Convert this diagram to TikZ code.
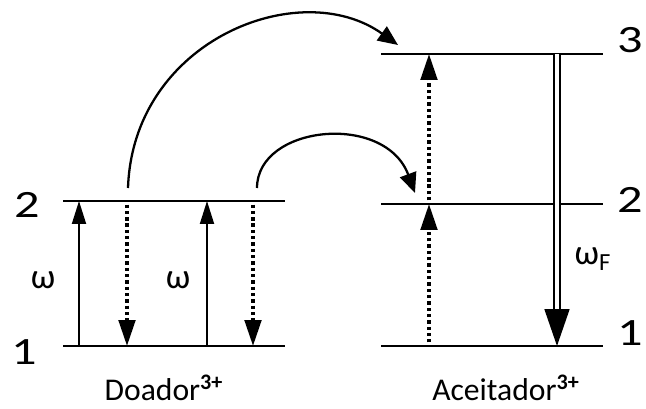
\documentclass[tikz,border=0pt]{standalone}
\usepackage{fontspec}
\usepackage{graphicx}
\setmainfont{Carlito}
\usetikzlibrary{arrows.meta}

\tikzset{
  level/.style={line width=1.7pt},
  upar/.style={line width=1.1pt, -{Triangle[length=4.6mm, width=2.8mm]}},
  dotar/.style={line width=2pt, dash pattern=on 1.9pt off 1.7pt, shorten <=2pt,
    -{Triangle[length=5.2mm, width=3.3mm]}},
  emit/.style={double, line width=1pt, double distance=2.6pt,
    -{Triangle[length=7.4mm, width=5mm]}},
  hop/.style={line width=1.3pt, -{Triangle[length=4mm, width=3.4mm]}},
  lab/.style={font=\fontsize{22}{24}\selectfont},
  greek/.style={font=\fontsize{20}{22}\selectfont},
  ion/.style={font=\fontsize{18}{20}\selectfont},
}
\newcommand{\wide}[1]{\scalebox{1.3}[1]{#1}}

\begin{document}
\begin{tikzpicture}[x=0.02cm, y=-0.02cm]
\useasboundingbox (0,0) rectangle (646,409);

% donor levels
\draw[level] (63,201) coordinate (d2w) -- (285,201) coordinate (d2e);
\draw[level] (63,346) coordinate (d1w) -- (285,346) coordinate (d1e);
% acceptor levels
\draw[level] (381,54) coordinate (a3w) -- (603,54) coordinate (a3e);
\draw[level] (381,204) coordinate (a2w) -- (603,204) coordinate (a2e);
\draw[level] (381,346) coordinate (a1w) -- (603,346) coordinate (a1e);

% columns of the transitions
\foreach \n/\x in {p/79, q/127, r/207, s/253, t/429, u/557}
  \coordinate (\n) at (\x,0);

% donor: absorption and relaxation
\draw[upar] (p |- d1w) -- (p |- d2w);
\draw[dotar] (q |- d2w) -- (q |- d1w);
\draw[upar] (r |- d1w) -- (r |- d2w);
\draw[dotar] (s |- d2w) -- (s |- d1w);

% acceptor: climbing and emission
\draw[dotar] (t |- a1w) -- (t |- a2w);
\draw[dotar] (t |- a2w) -- (t |- a3w);
\draw[emit] (u |- a3w) -- (u |- a1w);

% energy transfer
\coordinate (h1) at (128,188);
\coordinate (k1) at (398,45);
\coordinate (h2) at (257,188);
\coordinate (k2) at (415,193);
\draw[hop] (h1) .. controls (133,40) and (300,-25) .. (k1);
\draw[hop] (h2) .. controls (257,125) and (385,112) .. (k2);

% labels
\node[lab] (n2d) at (27,205) {\wide{2}};
\node[lab] (n1d) at (24,352) {\wide{1}};
\node[lab] (n3a) at (630,40) {\wide{3}};
\node[lab] (n2a) at (630,200) {\wide{2}};
\node[lab] (n1a) at (630,333) {\wide{1}};
\node[greek] (w1) at (43,280) {ω};
\node[greek] (w2) at (178,280) {ω};
\node[greek] (wf) at (593,259) {ω\textsubscript{F}};
\node[ion] (don) at (164,388) {Doador\textsuperscript{\bfseries 3+}};
\node[ion] (acc) at (506,388) {Aceitador\textsuperscript{\bfseries 3+}};
\end{tikzpicture}
\end{document}
